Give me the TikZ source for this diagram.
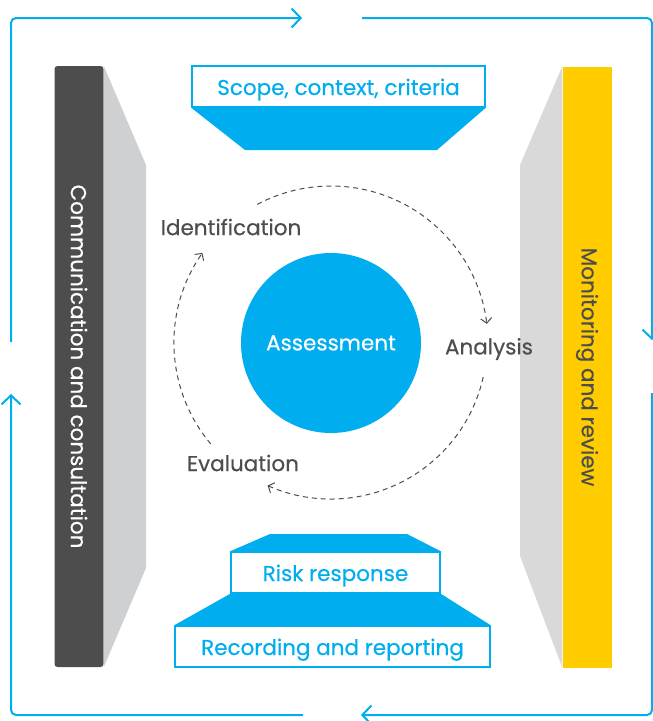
\documentclass[tikz,border=0pt]{standalone}
\usepackage{fontspec}
\setmainfont{Poppins}[FakeBold=0.4]
\usetikzlibrary{arrows.meta}
\definecolor{riskblue}{HTML}{00AEEF}
\definecolor{darkbar}{HTML}{4D4D4D}
\definecolor{yellowbar}{HTML}{FFCC00}
\definecolor{shadeL}{HTML}{CFD0D2}
\definecolor{shadeR}{HTML}{D9D9D9}
\definecolor{labelgray}{HTML}{4D4D4D}
\newcommand{\labelfont}{\fontsize{21.5}{24}\selectfont}
\tikzset{
  loopline/.style={draw=riskblue, line width=2pt, rounded corners=5pt,
    -{Straight Barb[length=9pt,width=19pt,line width=2pt]}},
  cycleline/.style={draw=labelgray, line width=1pt, dash pattern=on 5pt off 4pt,
    -{Straight Barb[length=5pt,width=11pt,line width=1pt]}},
  stagebox/.style={draw=riskblue, line width=1.5pt, fill=white, inner sep=0pt,
    minimum height=41pt, text=riskblue, font=\labelfont,
    text height=19pt, text depth=2pt},
  sidebar/.style={inner sep=0pt, minimum width=49pt, minimum height=601pt},
  sidetext/.style={rotate=-90, font=\labelfont},
  steplabel/.style={text=labelgray, font=\labelfont}
}
\begin{document}
\begin{tikzpicture}[x=1pt,y=-1pt]
\useasboundingbox (0,0) rectangle (653,721);

% outer loop, four arrowed segments
\coordinate (a0) at (11,342);
\coordinate (a1) at (11,18);
\coordinate (a2) at (302,18);
\coordinate (b0) at (362,18);
\coordinate (b1) at (652,18);
\coordinate (b2) at (652,340);
\coordinate (c0) at (652,393);
\coordinate (c1) at (652,715);
\coordinate (c2) at (361,715);
\coordinate (d0) at (303,715);
\coordinate (d1) at (11,715);
\coordinate (d2) at (11,394);
\draw[loopline] (a0) -- (a1) -- (a2);
\draw[loopline] (b0) -- (b1) -- (b2);
\draw[loopline] (c0) -- (c1) -- (c2);
\draw[loopline] (d0) -- (d1) -- (d2);

% left bar with its shaded side
\node[sidebar, fill=darkbar, rounded corners=3pt] (comm) at (79,366.5) {};
\fill[shadeL] (comm.north east) -- (146,165) -- (146,568) -- (comm.south east) -- cycle;
\node[sidetext, text=white] (commtext) at (comm.center) {Communication and consultation};

% right bar with its shaded side
\node[sidebar, fill=yellowbar] (mon) at (587,367) {};
\fill[shadeR] (mon.north west) -- (520,165) -- (520,556) -- (mon.south west) -- cycle;
\node[sidetext, text=labelgray] (montext) at (mon.center) {Monitoring and review};

% top stage
\node[stagebox, minimum width=293pt] (scope) at (338.5,86.5) {Scope, context, criteria};
\fill[riskblue] (scope.south west) -- (scope.south east) -- (437,150) -- (245,150) -- cycle;

% bottom stages
\node[stagebox, minimum width=209pt] (resp) at (335.5,572.5) {Risk response};
\fill[riskblue] (270,534) -- (407,534) -- (resp.north east) -- (resp.north west) -- cycle;
\node[stagebox, minimum width=315pt] (rec) at (332.5,646.5) {Recording and reporting};
\fill[riskblue] (resp.south west) -- (resp.south east) -- (rec.north east) -- (rec.north west) -- cycle;

% assessment cycle
\coordinate (ctr) at (331,343);
\node[circle, fill=riskblue, minimum size=180pt, inner sep=0pt, text=white,
  font=\labelfont] (assess) at (ctr) {Assessment};
\node[steplabel] (ident) at (231,227) {Identification};
\node[steplabel] (anal) at (489,349) {Analysis};
\node[steplabel] (eval) at (243,463) {Evaluation};
\draw[cycleline] ([shift={(-118:157)}]ctr) arc[start angle=-118, end angle=-7, radius=157];
\draw[cycleline] ([shift={(12.6:156)}]ctr) arc[start angle=12.6, end angle=114, radius=156];
\draw[cycleline] ([shift={(-220:157)}]ctr) arc[start angle=-220, end angle=-145, radius=157];
\end{tikzpicture}
\end{document}
